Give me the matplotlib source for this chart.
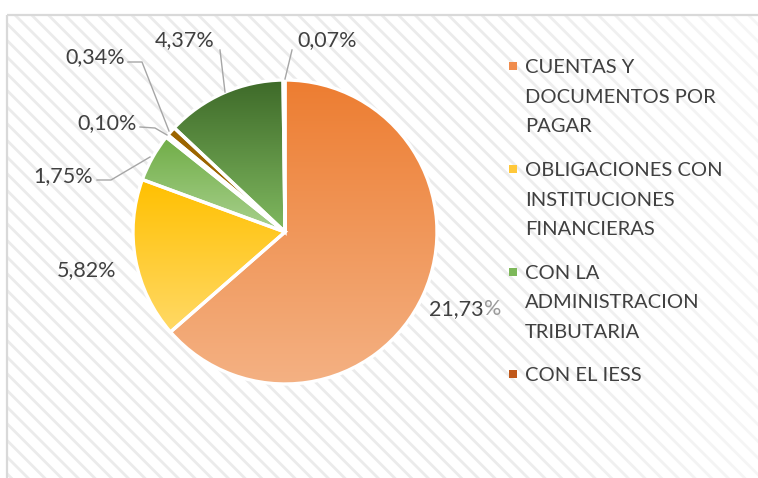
import matplotlib
matplotlib.use("Agg")
import matplotlib.pyplot as plt
import numpy as np
from matplotlib.colors import LinearSegmentedColormap
from matplotlib.patches import Rectangle

# ---- data ----
values = [21.73, 5.82, 1.75, 0.10, 0.34, 4.37, 0.07]
value_labels = ["21,73%", "5,82%", "1,75%", "0,10%", "0,34%", "4,37%", "0,07%"]
legend_labels = ["CUENTAS Y\nDOCUMENTOS POR\nPAGAR",
                 "OBLIGACIONES CON\nINSTITUCIONES\nFINANCIERAS",
                 "CON LA\nADMINISTRACION\nTRIBUTARIA",
                 "CON EL IESS"]

# ---- styles ----
grad_top = ["#ED7D31", "#FFC000", "#70AD47", "#C55A11", "#9C6500", "#3E6A29", "#264478"]
grad_bot = ["#F4B183", "#FFD966", "#A9D18E", "#C55A11", "#9C6500", "#80B960", "#264478"]
legend_colors = ["#F08C4D", "#FFC83A", "#7DB85A", "#C0581A"]
txt_color = "#404040"
FONT = "Lato"

W, H = 758, 478
fig = plt.figure(figsize=(W / 100, H / 100), dpi=100)
ax = fig.add_axes([0, 0, 1, 1])
plt.rcParams['hatch.linewidth'] = 2.0

def Y(y):
    return H - y

# background
bg = Rectangle((7, 0), W - 7, Y(15), facecolor="white", edgecolor="#EBEBEB",
               hatch="\\\\", linewidth=0, zorder=-5)
ax.add_patch(bg)
fade = np.linspace(0, 0.55, 256)[None, :]
fade_rgba = np.ones((1, 256, 4))
fade_rgba[..., 3] = fade
ax.imshow(fade_rgba, extent=(470, W, 0, Y(15)), aspect="auto", zorder=-4)
ax.plot([7, 7], [0, Y(15)], color="#D9D9D9", lw=1.6, zorder=-3, solid_capstyle="butt")
ax.plot([7, W], [Y(15), Y(15)], color="#D9D9D9", lw=1.6, zorder=-3, solid_capstyle="butt")

cx, cy, R = 285, Y(232), 152
wedges, _ = ax.pie(values, startangle=90, counterclock=False, center=(cx, cy),
                   radius=R, colors=grad_top, frame=True,
                   wedgeprops=dict(edgecolor="white", linewidth=2.4))

for w, ct, cb in zip(wedges, grad_top, grad_bot):
    ext = w.get_path().get_extents()
    cmap = LinearSegmentedColormap.from_list("g", [cb, ct])
    grad = np.linspace(0, 1, 256)[:, None]
    im = ax.imshow(grad, cmap=cmap, extent=(ext.x0, ext.x1, ext.y0, ext.y1),
                   origin="lower", aspect="auto", zorder=0.5, interpolation="bilinear")
    im.set_clip_path(w)
    w.set_facecolor("none")
    w.set_zorder(2)

# data labels with leader lines
label_pos = [(471, 307), (87, 268), (63, 174), (107, 121), (95, 55), (185, 38), (327, 38)]
leaders = [None, None,
           [(97, 180), (111, 180), (150, 157)],
           [(140, 127), (155, 128), (167, 135)],
           [(128, 62), (142, 62), (169, 131)],
           [(220, 50), (225, 92)],
           [(292, 50), (285, 79)]]
for k, (lab, (x, y), ld) in enumerate(zip(value_labels, label_pos, leaders)):
    if k == 0:
        # the reference draws the % sign of this label in a lighter grey
        ax.text(x + 13, Y(y), lab[:-1], ha="right", va="center_baseline", fontsize=15.5,
                color=txt_color, family=FONT, zorder=5)
        ax.text(x + 13, Y(y), lab[-1], ha="left", va="center_baseline", fontsize=15.5,
                color="#9A9A9A", family=FONT, zorder=5)
    else:
        ax.text(x, Y(y), lab, ha="center", va="center_baseline", fontsize=15.5,
                color=txt_color, family=FONT, zorder=5)
    if ld:
        xs = [p[0] for p in ld]
        ys = [Y(p[1]) for p in ld]
        ax.plot(xs, ys, color="#A6A6A6", lw=1.0, zorder=4)

# legend
leg_y = [66, 169, 272, 374]
line_gap = 29.5
for lab, c, y in zip(legend_labels, legend_colors, leg_y):
    ax.add_patch(Rectangle((509, Y(y) - 4), 8, 8, facecolor=c, edgecolor="none", zorder=5))
    for i, line in enumerate(lab.split("\n")):
        ax.text(525, Y(y + i * line_gap), line, ha="left", va="center_baseline",
                fontsize=14.5, color=txt_color, family=FONT, zorder=5)

ax.set_xlim(0, W)
ax.set_ylim(0, H)
ax.set_aspect("equal")
ax.axis("off")
fig.savefig("out.png", dpi=100)
